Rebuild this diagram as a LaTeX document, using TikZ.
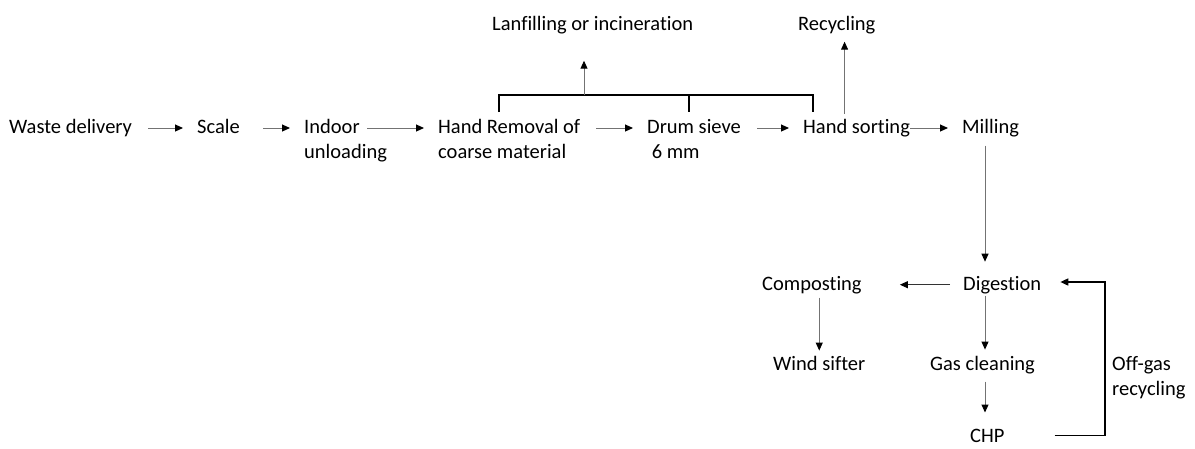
\documentclass[tikz,border=0pt]{standalone}
\usepackage{fontspec}
\setmainfont{Carlito}[Ligatures=NoCommon]
\usetikzlibrary{arrows.meta}
\begin{document}
\begin{tikzpicture}[x=1pt, y=-1pt,
  txt/.style={inner sep=0pt, anchor=base west, align=left, font=\fontsize{20.5}{25}\selectfont},
  arr/.style={-{Triangle[length=8pt,width=7pt,color=black]}, line width=1pt, draw=black!55, shorten <=16pt, shorten >=14pt},
  bracket/.style={line width=1.6pt, draw=black}]
\useasboundingbox (0,0) rectangle (1195,448);
% process chain
\node[txt] (waste) at (9,133) {Waste delivery};
\node[txt] (scale) at (197,133) {Scale};
\node[txt] (indoor) at (304,158) {Indoor\\unloading};
\node[txt] (handrem) at (438,158) {Hand Removal of\\coarse material};
\node[txt] (drum) at (647,158) {Drum sieve\\\ 6 mm};
\node[txt] (handsort) at (803,133) {Hand sorting};
\node[txt] (milling) at (962,133) {Milling};
\node[txt] (landfill) at (492,30) {Lanfilling or incineration};
\node[txt] (recycling) at (798,30) {Recycling};
\node[txt] (composting) at (762,290) {Composting};
\node[txt] (digestion) at (963,290) {Digestion};
\node[txt] (wind) at (773,370) {Wind sifter};
\node[txt] (gas) at (930,370) {Gas cleaning};
\node[txt] (chp) at (970,442) {CHP};
\node[txt] (offgas) at (1112,395) {Off-gas\\recycling};
\coordinate (row) at (0,128);
\coordinate (col) at (985,0);
\coordinate (split) at (584,95);
\coordinate (loop) at (1105,282);
\draw[arr] (waste.east |- row) -- (scale.west |- row);
\draw[arr, shorten <=23pt] (scale.east |- row) -- (indoor.west |- row);
\draw[arr, shorten <=-20pt] (indoor.east |- row) -- (handrem.west |- row);
\draw[arr] (handrem.east |- row) -- (drum.west |- row);
\draw[arr] (drum.east |- row) -- (handsort.west |- row);
\draw[arr, shorten <=0pt] (handsort.east |- row) -- (milling.west |- row);
% sorting residues
\draw[bracket] (499,112) |- (813,95) -- (813,112);
\draw[bracket] (689,95) -- (689,112);
\draw[arr, shorten <=0pt, shorten >=27pt] (split) -- (split |- landfill.south);
\draw[arr, shorten <=5pt, shorten >=8pt] ([xshift=-12pt]handsort.north) -- ([xshift=-12pt]handsort.north |- recycling.south);
% biological treatment
\draw[arr, shorten <=9pt, shorten >=14pt] (milling.south -| col) -- (digestion.north -| col);
\draw[arr, draw=black!80, shorten <=13pt, shorten >=38pt] (digestion.west) -- (composting.east);
\draw[arr, shorten <=4pt, shorten >=5pt] (composting.south -| wind.north) -- (wind.north);
\draw[arr, shorten <=2pt, shorten >=6pt] (digestion.south -| col) -- (gas.north -| col);
\draw[arr, shorten <=8pt, shorten >=16pt] (gas.south -| col) -- (chp.north -| col);
\draw[arr, draw=black, line width=1.6pt, shorten <=50pt, shorten >=19pt] (chp.east) -| (loop) -- (digestion.east |- loop);
\end{tikzpicture}
\end{document}
